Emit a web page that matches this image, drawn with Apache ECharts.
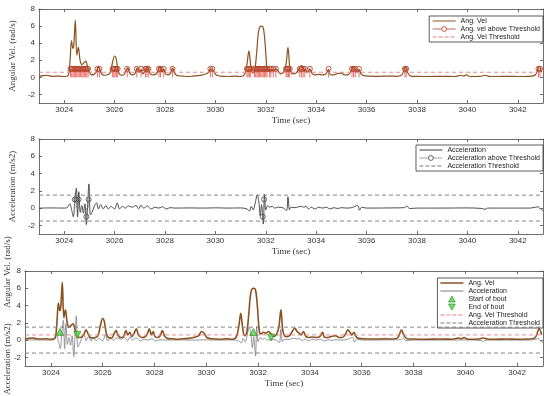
<!DOCTYPE html>
<html><head><meta charset="utf-8">
<script src="https://cdn.jsdelivr.net/npm/echarts@6/dist/echarts.min.js"></script>
<style>html,body{margin:0;padding:0;background:#fff}#c{width:550px;height:396px}</style>
</head><body><div id="c"></div>
<script>
const xTicks = [3024, 3026, 3028, 3030, 3032, 3034, 3036, 3038, 3040, 3042];
const yTicks = [-2, 0, 2, 4, 6, 8];
const angThr = 0.6;
const accThr = 1.5;

const angT = [3023.0,3023.15,3023.3,3023.45,3023.6,3023.8,3024.0,3024.15,3024.22,3024.29,3024.34,3024.38,3024.44,3024.5,3024.56,3024.63,3024.7,3024.78,3024.86,3024.92,3025.0,3025.08,3025.18,3025.28,3025.36,3025.44,3025.52,3025.62,3025.72,3025.82,3025.92,3026.0,3026.06,3026.14,3026.22,3026.35,3026.45,3026.52,3026.6,3026.7,3026.8,3026.9,3026.97,3027.05,3027.12,3027.2,3027.3,3027.38,3027.5,3027.62,3027.72,3027.8,3027.88,3027.95,3028.02,3028.12,3028.22,3028.3,3028.4,3028.5,3028.7,3028.9,3029.1,3029.3,3029.5,3029.7,3029.82,3029.92,3030.02,3030.2,3030.5,3030.8,3031.0,3031.15,3031.25,3031.33,3031.4,3031.48,3031.56,3031.64,3031.72,3031.82,3031.9,3031.97,3032.05,3032.12,3032.2,3032.3,3032.4,3032.5,3032.58,3032.7,3032.8,3032.88,3032.95,3033.02,3033.1,3033.2,3033.3,3033.42,3033.5,3033.58,3033.66,3033.75,3033.85,3033.95,3034.1,3034.25,3034.38,3034.49,3034.57,3034.7,3034.85,3035.0,3035.12,3035.25,3035.38,3035.46,3035.55,3035.62,3035.7,3035.78,3035.9,3036.1,3036.5,3036.9,3037.2,3037.4,3037.54,3037.62,3037.75,3038.0,3038.5,3039.0,3039.5,3039.75,3039.85,3039.95,3040.1,3040.5,3040.7,3040.85,3041.2,3041.6,3042.0,3042.4,3042.7,3042.85,3042.95];
const angV = [0.12,0.2,0.25,0.15,0.12,0.15,0.1,0.2,1.5,4.3,3.4,3.8,6.7,2.6,3.5,2.0,1.5,1.7,1.9,1.3,0.6,0.3,0.35,0.7,1.2,0.7,0.3,0.25,0.3,0.5,1.8,2.5,2.2,0.8,0.3,0.25,0.8,1.1,0.5,0.3,0.4,1.1,0.6,0.9,0.4,0.7,1.3,0.6,0.3,0.35,0.7,1.3,0.6,1.0,0.4,0.3,0.5,1.1,0.4,0.2,0.15,0.1,0.15,0.2,0.3,0.5,1.0,0.8,0.3,0.15,0.1,0.15,0.1,0.3,1.5,3.1,1.5,0.5,0.8,3.0,5.5,6.0,5.8,4.0,1.0,0.7,0.9,0.8,1.0,0.7,0.4,0.6,1.5,3.5,1.2,0.5,0.4,0.5,0.9,1.4,1.0,0.8,0.6,1.0,0.4,0.3,0.35,0.3,0.4,0.9,0.3,0.3,0.45,0.5,0.3,0.3,0.7,1.2,0.9,0.6,0.9,0.4,0.2,0.15,0.12,0.15,0.12,0.3,1.2,0.6,0.15,0.12,0.1,0.12,0.1,0.25,0.15,0.3,0.1,0.12,0.25,0.12,0.1,0.12,0.1,0.12,0.3,1.3,0.6];

const angAboveT = [3024.25,3024.3,3024.35,3024.4,3024.45,3024.5,3024.55,3024.6,3024.65,3024.7,3024.75,3024.8,3024.85,3024.9,3024.95,3025.32,3025.4,3025.92,3025.97,3026.02,3026.07,3026.12,3026.5,3026.88,3027.05,3027.22,3027.28,3027.34,3027.76,3027.82,3027.95,3028.3,3029.8,3029.88,3031.25,3031.3,3031.35,3031.4,3031.55,3031.6,3031.65,3031.7,3031.75,3031.8,3031.85,3031.9,3031.95,3032.0,3032.05,3032.15,3032.2,3032.3,3032.4,3032.8,3032.85,3032.9,3032.95,3033.35,3033.42,3033.48,3033.55,3033.75,3034.49,3035.42,3035.48,3035.55,3035.7,3037.52,3037.57,3042.82,3042.88];
const angAboveV = angAboveT.map(() => 1);

const accT = [3023.0,3023.5,3024.0,3024.12,3024.22,3024.3,3024.36,3024.42,3024.48,3024.53,3024.58,3024.64,3024.7,3024.76,3024.82,3024.88,3024.93,3024.98,3025.04,3025.1,3025.18,3025.28,3025.36,3025.45,3025.55,3025.65,3025.75,3025.85,3026.0,3026.1,3026.2,3026.3,3026.42,3026.55,3026.7,3026.85,3026.95,3027.05,3027.15,3027.3,3027.45,3027.6,3027.75,3027.9,3028.05,3028.2,3028.4,3029.0,3029.5,3030.0,3030.5,3031.0,3031.25,3031.35,3031.42,3031.5,3031.58,3031.66,3031.72,3031.78,3031.83,3031.9,3031.95,3032.0,3032.08,3032.15,3032.25,3032.35,3032.5,3032.7,3032.82,3032.88,3032.94,3033.0,3033.15,3033.3,3033.42,3033.5,3033.6,3033.7,3033.8,3033.95,3034.1,3034.25,3034.4,3034.55,3034.7,3034.85,3035.0,3035.2,3035.4,3035.65,3035.72,3035.8,3036.0,3037.0,3037.5,3037.6,3037.7,3038.0,3039.0,3040.0,3040.6,3040.7,3040.8,3041.5,3042.5,3042.8,3042.9,3043.0];
const accV = [0.0,0.02,0.0,0.05,0.5,-0.3,-1.0,0.8,2.3,-1.0,1.9,-0.5,0.3,-0.6,0.5,-1.9,0.4,2.8,-0.8,-0.5,0.1,0.6,-0.1,0.4,-0.1,0.3,-0.1,0.2,-0.1,0.6,-0.1,0.2,0.0,0.25,0.1,0.3,-0.1,0.35,0.0,0.25,-0.1,0.1,0.0,0.15,-0.1,0.05,0.0,0.02,0.0,0.03,0.0,0.02,-0.1,-0.35,0.2,-0.2,0.6,1.5,0.8,-0.9,0.4,-1.85,1.6,-0.2,0.3,0.1,0.2,0.0,0.1,0.0,-0.3,1.3,-0.2,0.1,0.05,0.15,0.2,0.1,0.2,-0.1,0.1,-0.1,0.1,0.0,0.1,-0.1,0.05,-0.05,0.05,0.0,0.05,0.3,-0.25,0.1,0.0,0.02,0.05,0.25,-0.05,0.0,0.0,0.02,-0.05,-0.15,0.0,0.0,0.0,0.15,-0.1,-0.3];

const accAboveT = [3024.42,3024.48,3024.57,3024.88,3024.97,3031.88,3031.93];
const accAboveV = [1,1,1,-1,1,-1,1];

const boutStartT = [3024.35, 3031.82];
const boutStartV = [0.95, 0.93];
const boutEndT = [3025.02, 3032.5];
const boutEndV = [0.6, 0.3];

const zip = (a, b) => a.map((v, i) => [v, b[i]]);
function stems(ts, vs) {
  const d = [];
  ts.forEach((t, i) => { d.push({ value: [t, 0], symbol: 'none' }); d.push([t, vs[i]]); d.push('-'); });
  return d;
}
const X0 = 3023, X1 = 3043;
const hline = (v) => [[X0, v], [X1, v]];

const axisCol = '#4a4a4a';
const tickFont = { fontSize: 8, color: '#333', fontFamily: 'Liberation Sans' };
const nameFont = { fontSize: 9, color: '#333', fontFamily: 'Liberation Serif' };
const grids = [
  { left: 25, top: 9, width: 518, height: 94 },
  { left: 25, top: 139, width: 518, height: 95 },
  { left: 25, top: 271, width: 518, height: 95 }
];
const yNames = ['Angular Vel. (rad/s)', 'Acceleration (m/s2)', ''];
const xAxis = [], yAxis = [];
grids.forEach((g, i) => {
  const line = { show: true, onZero: false, lineStyle: { color: axisCol, width: 0.8 } };
  xAxis.push({ type: 'value', gridIndex: i, min: X0, max: X1, position: 'bottom', axisLine: line,
    axisTick: { inside: true, length: 3, customValues: xTicks, lineStyle: { color: axisCol, width: 0.8 } },
    axisLabel: Object.assign({ customValues: xTicks, margin: 3, formatter: v => String(v) }, tickFont),
    splitLine: { show: false }, name: 'Time (sec)', nameLocation: 'middle', nameGap: 13, nameTextStyle: nameFont });
  xAxis.push({ type: 'value', gridIndex: i, min: X0, max: X1, position: 'top', axisLine: line,
    axisTick: { inside: true, length: 3, customValues: xTicks, lineStyle: { color: axisCol, width: 0.8 } },
    axisLabel: { show: false }, splitLine: { show: false } });
  yAxis.push({ type: 'value', gridIndex: i, min: -3, max: 8, position: 'left', axisLine: line,
    axisTick: { inside: true, length: 3, customValues: yTicks, lineStyle: { color: axisCol, width: 0.8 } },
    axisLabel: Object.assign({ customValues: yTicks, margin: 4, formatter: v => String(v) }, tickFont),
    splitLine: { show: false }, name: yNames[i], nameLocation: 'middle', nameGap: 20, nameTextStyle: nameFont });
  yAxis.push({ type: 'value', gridIndex: i, min: -3, max: 8, position: 'right', axisLine: line,
    axisTick: { inside: true, length: 3, customValues: yTicks, lineStyle: { color: axisCol, width: 0.8 } },
    axisLabel: { show: false }, splitLine: { show: false } });
});

const brown = '#8a5220', red = '#e2332b', pink = '#e67f80', accDark = '#3c3c3c', accGray = '#7a7a84', dashGray = '#7a7a7a';
const p = (i) => ({ xAxisIndex: 2 * i, yAxisIndex: 2 * i });
const series = [
  Object.assign({ name: 'Ang. Vel', type: 'line', data: zip(angT, angV), smooth: 0.35, symbol: 'none',
    lineStyle: { color: brown, width: 1.2 }, itemStyle: { color: brown } }, p(0)),
  Object.assign({ name: 'Ang. vel above Threshold', type: 'line', data: stems(angAboveT, angAboveV), symbol: 'circle', symbolSize: 5,
    showAllSymbol: true, lineStyle: { color: red, width: 0.7 }, itemStyle: { color: 'rgba(0,0,0,0)', borderColor: '#b5452a', borderWidth: 0.9 } }, p(0)),
  Object.assign({ name: 'Ang. Vel Threshold', type: 'line', data: hline(angThr), symbol: 'none',
    lineStyle: { color: pink, width: 0.9, type: [4, 3] }, itemStyle: { color: pink } }, p(0)),

  Object.assign({ name: 'Acceleration', type: 'line', data: zip(accT, accV), smooth: 0.35, symbol: 'none',
    lineStyle: { color: accDark, width: 0.9 }, itemStyle: { color: accDark } }, p(1)),
  Object.assign({ name: 'Acceleration above Threshold', type: 'line', data: stems(accAboveT, accAboveV), symbol: 'circle', symbolSize: 5,
    showAllSymbol: true, lineStyle: { color: '#8a8a8a', width: 0.7 }, itemStyle: { color: 'rgba(0,0,0,0)', borderColor: '#555', borderWidth: 0.9 } }, p(1)),
  Object.assign({ name: 'Acceleration Threshold', type: 'line', data: hline(accThr).concat(['-'], hline(-accThr)), symbol: 'none',
    lineStyle: { color: dashGray, width: 0.9, type: [4, 3] }, itemStyle: { color: dashGray } }, p(1)),

  Object.assign({ name: 'Ang. Vel', type: 'line', data: zip(angT, angV), smooth: 0.35, symbol: 'none',
    lineStyle: { color: brown, width: 1.6 }, itemStyle: { color: brown }, z: 3 }, p(2)),
  Object.assign({ name: 'Acceleration', type: 'line', data: zip(accT, accV), smooth: 0.35, symbol: 'none',
    lineStyle: { color: accGray, width: 0.8 }, itemStyle: { color: accGray }, z: 2 }, p(2)),
  Object.assign({ name: 'Start of bout', type: 'scatter', data: zip(boutStartT, boutStartV), symbol: 'triangle', symbolSize: 7,
    itemStyle: { color: '#4fd44a', borderColor: '#1f8a1f', borderWidth: 0.8 }, z: 5 }, p(2)),
  Object.assign({ name: 'End of bout', type: 'scatter', data: zip(boutEndT, boutEndV), symbol: 'triangle', symbolRotate: 180, symbolSize: 7,
    itemStyle: { color: '#4fd44a', borderColor: '#1f8a1f', borderWidth: 0.8 }, z: 5 }, p(2)),
  Object.assign({ name: 'Ang. Vel Threshold', type: 'line', data: hline(angThr), symbol: 'none',
    lineStyle: { color: pink, width: 0.9, type: [4, 3] }, z: 4 }, p(2)),
  Object.assign({ name: 'Acceleration Threshold', type: 'line', data: hline(accThr).concat(['-'], hline(-accThr)), symbol: 'none',
    lineStyle: { color: dashGray, width: 0.9, type: [4, 3] }, z: 4 }, p(2))
];

// legend icon shapes
const solidIcon = 'path://M0,0H46V2H0Z';
const thickIcon = 'path://M0,0H46V3H0Z';
const dashIcon = 'path://M0,0H8V2H0ZM12,0H20V2H12ZM24,0H32V2H24ZM36,0H44V2H36ZM46,0H46.1V2H46Z';
const triUp = 'path://M5,0L10,9L0,9Z';
const triDown = 'path://M0,0L10,0L5,9Z';
const markerItem = (name, lc, mc) => ({ name, lineStyle: { color: lc, width: 0.8 }, itemStyle: { color: '#fff', borderColor: mc, borderWidth: 0.9 } });
const legendBase = { orient: 'vertical', right: 7, selectedMode: false, itemWidth: 23, itemHeight: 6, itemGap: 0,
  padding: [1, 3], backgroundColor: '#fff', borderColor: '#333', borderWidth: 0.8, borderRadius: 0,
  textStyle: { fontSize: 7, lineHeight: 8, color: '#222', fontFamily: 'Liberation Sans' } };
const legend = [
  Object.assign({}, legendBase, { top: 16, data: [
    { name: 'Ang. Vel', icon: solidIcon, itemStyle: { color: brown } },
    markerItem('Ang. vel above Threshold', '#b5452a', '#b5452a'),
    { name: 'Ang. Vel Threshold', icon: dashIcon, itemStyle: { color: pink } }] }),
  Object.assign({}, legendBase, { top: 145, data: [
    { name: 'Acceleration', icon: solidIcon, itemStyle: { color: accDark } },
    markerItem('Acceleration above Threshold', '#8a8a8a', '#555'),
    { name: 'Acceleration Threshold', icon: dashIcon, itemStyle: { color: dashGray } }] }),
  Object.assign({}, legendBase, { top: 278, data: [
    { name: 'Ang. Vel', icon: thickIcon, itemStyle: { color: brown } },
    { name: 'Acceleration', icon: solidIcon, itemStyle: { color: accGray } },
    { name: 'Start of bout', icon: triUp, itemStyle: { color: '#4fd44a', borderColor: '#1f8a1f', borderWidth: 0.8 } },
    { name: 'End of bout', icon: triDown, itemStyle: { color: '#4fd44a', borderColor: '#1f8a1f', borderWidth: 0.8 } },
    { name: 'Ang. Vel Threshold', icon: dashIcon, itemStyle: { color: pink } },
    { name: 'Acceleration Threshold', icon: dashIcon, itemStyle: { color: dashGray } }] })
];

const chart = echarts.init(document.getElementById('c'), null, { renderer: 'canvas' });
chart.setOption({
  animation: false,
  backgroundColor: '#fff',
  grid: grids,
  xAxis, yAxis, series, legend,
  graphic: [
    { type: 'text', x: 8, y: 272, rotation: Math.PI / 2, style: { text: 'Angular Vel. (rad/s)', align: 'center', verticalAlign: 'middle', fill: '#333', fontSize: 9, fontFamily: 'Liberation Serif' } },
    { type: 'text', x: 8, y: 359, rotation: Math.PI / 2, style: { text: 'Acceleration (m/s2)', align: 'center', verticalAlign: 'middle', fill: '#333', fontSize: 9, fontFamily: 'Liberation Serif' } }
  ]
});
</script></body></html>
